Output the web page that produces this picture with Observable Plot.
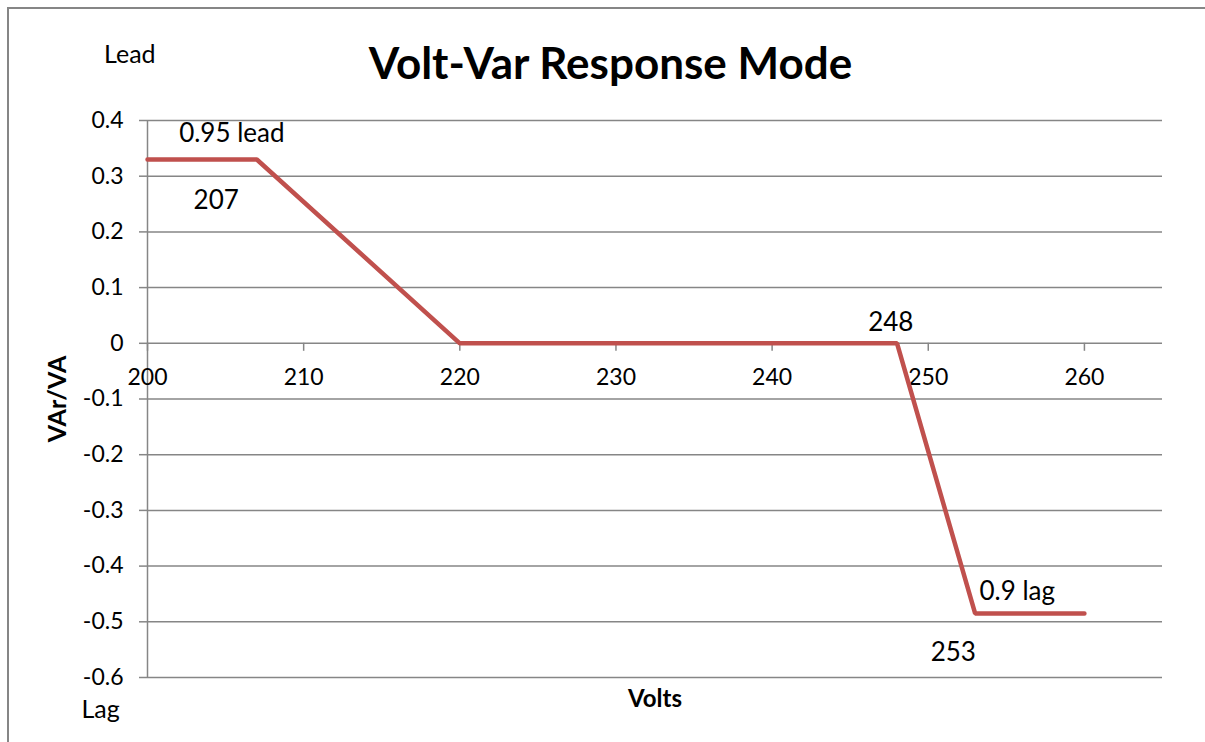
<!DOCTYPE html>
<html>
<head>
<meta charset="utf-8">
<script src="https://cdn.jsdelivr.net/npm/d3@7"></script>
<script src="https://cdn.jsdelivr.net/npm/@observablehq/plot@0.6"></script>
<style>
  html, body { margin: 0; padding: 0; background: #fff; }
  body { position: relative; width: 1205px; height: 742px; overflow: hidden; font-family: Lato, "Open Sans", sans-serif; color: #000; }
  .frame { position: absolute; left: 7px; top: 7px; width: 1198px; height: 735px; border-top: 2px solid #868686; border-left: 2px solid #868686; pointer-events: none; box-sizing: border-box; }
  .head { position: relative; height: 100px; }
  .title { position: absolute; left: 16px; right: 0; top: 38px; text-align: center; font-weight: bold; font-size: 44px; line-height: 48px; }
  .lead { position: absolute; left: 104px; top: 38px; font-size: 25px; line-height: 30px; }
  #chart svg { display: block; }
</style>
</head>
<body>
<div class="frame"></div>
<div class="head">
  <div class="lead">Lead</div>
  <div class="title">Volt-Var Response Mode</div>
</div>
<div id="chart"></div>
<script>
// Data
const volts = [200, 207, 220, 248, 253, 260];
const varPerVa = [0.33, 0.33, 0, 0, -0.485, -0.485];
const xTicks = [200, 210, 220, 230, 240, 250, 260];
const yTicks = [0.4, 0.3, 0.2, 0.1, 0, -0.1, -0.2, -0.3, -0.4, -0.5, -0.6];
const annoText = ["0.95 lead", "207", "248", "0.9 lag", "253"];
const annoX = [205.4, 204.4, 247.6, 255.7, 251.6];
const annoY = [0.377, 0.256, 0.037, -0.446, -0.555];

const points = volts.map((v, i) => ({v, q: varPerVa[i]}));
const annos = annoText.map((t, i) => ({t, x: annoX[i], y: annoY[i]}));

const grid = "#868686";
const chart = Plot.plot({
  width: 1205,
  height: 642,
  marginTop: 20,
  marginBottom: 65,
  marginLeft: 147,
  marginRight: 43,
  style: {fontFamily: "Lato, 'Open Sans', sans-serif", fontSize: "23px", color: "#000", background: "transparent", overflow: "visible"},
  x: {domain: [200, 265], axis: null},
  y: {domain: [-0.6, 0.4], axis: null},
  marks: [
    Plot.gridY(yTicks, {stroke: grid, strokeOpacity: 1, strokeWidth: 1.5}),
    Plot.axisY(yTicks, {tickSize: 8, tickPadding: 16, stroke: grid, strokeWidth: 1.5, fontSize: 23, tickFormat: d => String(d), label: null}),
    Plot.ruleX([200], {y1: -0.6, y2: 0.4, stroke: grid, strokeWidth: 1.5}),
    Plot.ruleX(xTicks, {x: d => d, y1: 0, y2: 0, dy: 4, insetTop: -4, insetBottom: -4, stroke: grid, strokeWidth: 1.5}),
    Plot.text(xTicks, {x: d => d, y: 0, text: d => String(d), dy: 34, fontSize: 23, fill: "#000"}),
    Plot.line(points, {x: "v", y: "q", stroke: "#C0504D", strokeWidth: 4.5, strokeLinecap: "round", strokeLinejoin: "miter"}),
    Plot.text(annos, {x: "x", y: "y", text: "t", fontSize: 26, fill: "#000"}),
    Plot.text(["Lag"], {frameAnchor: "bottom-left", text: d => d, dx: -47, dy: 32, textAnchor: "middle", lineAnchor: "middle", fontSize: 25, fill: "#000"}),
    Plot.text(["Volts"], {frameAnchor: "bottom", text: d => d, dx: 0, dy: 22, textAnchor: "middle", lineAnchor: "middle", fontSize: 24, fontWeight: "bold", fill: "#000"}),
    Plot.text(["VAr/VA"], {frameAnchor: "left", text: d => d, dx: -90, dy: 0, rotate: -90, textAnchor: "middle", lineAnchor: "middle", fontSize: 25, fontWeight: "bold", fill: "#000"})
  ]
});
document.getElementById("chart").appendChild(chart);
</script>
</body>
</html>
